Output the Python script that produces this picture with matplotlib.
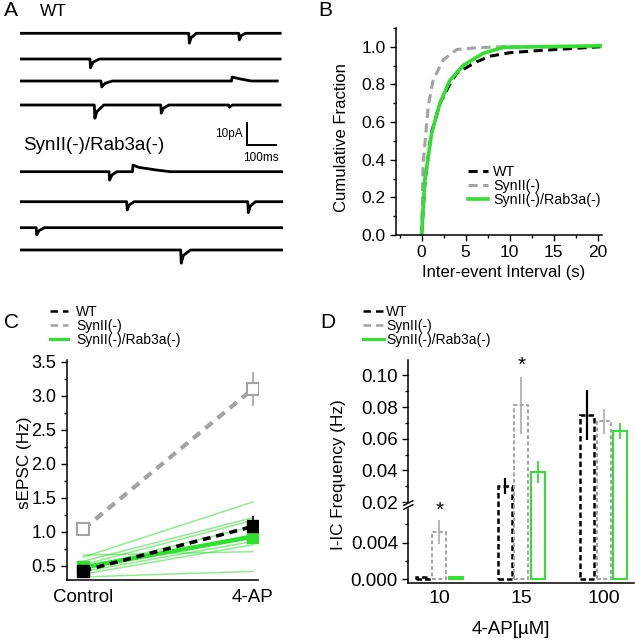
import numpy as np
import matplotlib
matplotlib.use('Agg')
import matplotlib.pyplot as plt
from matplotlib.lines import Line2D
from matplotlib.ticker import FixedLocator, MultipleLocator, FixedFormatter

plt.rcParams['font.family'] = ['Liberation Sans', 'DejaVu Sans']
plt.rcParams['axes.linewidth'] = 1.1
plt.rcParams['xtick.direction'] = 'out'
plt.rcParams['ytick.direction'] = 'out'

# ---- data ----
# A: example traces, (time ms, current pA) points
wt_traces = [
    [(0, 0), (584, 0), (586, -4.5), (592, -2), (610, 0), (757, 0), (759, -3), (766, -1), (780, 0), (900, 0)],
    [(0, 0), (242, 0), (244, -4), (252, -1.5), (275, 0), (900, 0)],
    [(0, 0), (280, 0), (283, -2.7), (295, -1), (320, 0), (732, 0), (734, 1.8), (760, 1), (800, 0), (890, 0)],
    [(0, 0), (257, 0), (259, -6), (266, -3), (290, 0), (487, 0), (489, -3.7), (496, -1.5), (515, 0),
     (722, 0), (724, -1), (735, 0), (900, 0)],
]
dko_traces = [
    [(0, 0), (308, 0), (310, -3.8), (318, -1.5), (335, 0), (389, 0), (391, 3), (410, 2), (470, 0.8), (520, 0), (910, 0)],
    [(0, 0), (369, 0), (371, -3.8), (378, -1.5), (395, 0), (788, 0), (790, -5), (797, -2), (815, 0), (910, 0)],
    [(0, 0), (56, 0), (58, -3.3), (66, -1.3), (85, 0), (910, 0)],
    [(0, 0), (556, 0), (558, -6), (565, -2.5), (590, 0), (910, 0)],
]

# B: cumulative distributions of inter-event interval
b_x_wt = [0, 0.4, 1.1, 2.1, 3.2, 4.0, 6.25, 7.8, 10, 13.4, 16.9, 20.3]
b_y_wt = [0, 0.29, 0.54, 0.70, 0.80, 0.86, 0.92, 0.95, 0.968, 0.98, 0.99, 1.0]
b_x_syn = [0, 0.18, 0.75, 1.3, 2.45, 4.0, 6.25, 9.3, 20.3]
b_y_syn = [0, 0.38, 0.68, 0.82, 0.93, 0.985, 0.995, 1.0, 1.0]
b_x_rab = [0, 0.37, 1.14, 2.08, 3.2, 4.7, 7.0, 9.3, 20.4]
b_y_rab = [0, 0.29, 0.54, 0.70, 0.82, 0.90, 0.965, 0.997, 1.005]

# C: sEPSC frequency
conditions = ['Control', '4-AP']
c_wt = [0.43, 1.08]
c_wt_err = [0.04, 0.15]
c_syn = [1.04, 3.10]
c_syn_err = [0.10, 0.25]
c_rab = [0.48, 0.93]
c_rab_err = [0.05, 0.08]
c_rab_cells = [[0.63, 1.44], [0.57, 1.21], [0.52, 1.17], [0.47, 1.08], [0.45, 0.96],
               [0.42, 0.86], [0.38, 0.81], [0.66, 0.71], [0.34, 0.42]]

# D: I-IC frequency vs 4-AP
conc = ['10', '15', '100']
d_wt = [0.0003, 0.030, 0.075]
d_wt_err = [0, 0.005, 0.016]
d_syn = [0.0052, 0.081, 0.071]
d_syn_err = [0.0013, 0.018, 0.008]
d_rab = [0.0003, 0.039, 0.065]
d_rab_err = [0, 0.007, 0.005]

labels = ['WT', 'SynII(-)', 'SynII(-)/Rab3a(-)']

GREEN = '#2fe02f'
GRAY = '#a3a3a3'

W, H = 635, 640


def fx(px):
    return px / W


def fy(py):
    return 1 - py / H


def rect(l, t, r, b):
    return [l / W, 1 - b / H, (r - l) / W, (b - t) / H]


fig = plt.figure(figsize=(6.35, 6.4), dpi=100)

# ---- A ----
axA = fig.add_axes(rect(20, 20, 283, 270))
axA.axis('off')
axA.set_xlim(0, 910)
axA.set_ylim(-107.6, 6.05)
rows_px = [33.3, 59, 81, 105, 171.7, 201.7, 227.7, 250]
for pts, row in zip(wt_traces + dko_traces, rows_px):
    t, v = np.array(pts, dtype=float).T
    axA.plot(t, v - (row - 33.3) / 2.2, color='k', lw=2.0)
axA.plot([785, 785, 885], [-40.8, -50.8, -50.8], color='k', lw=1.4, solid_joinstyle='miter')
axA.text(772, -46, '10pA', ha='right', va='center', fontsize=8.5)
axA.text(835, -54, '100ms', ha='center', va='top', fontsize=8.5)
fig.text(fx(4), fy(11), 'A', fontsize=15, va='center')
fig.text(fx(40), fy(11), 'WT', fontsize=12.5, va='center')
fig.text(fx(23), fy(145), 'SynII(-)/Rab3a(-)', fontsize=13.5, va='center')

# ---- B ----
axB = fig.add_axes(rect(396, 27.9, 601.7, 235))
axB.plot(b_x_syn, b_y_syn, color=GRAY, lw=2.2, dashes=(3, 1.8))
axB.plot(b_x_wt, b_y_wt, color='k', lw=2.2, dashes=(3, 1.8))
axB.plot(b_x_rab, b_y_rab, color=GREEN, lw=2.6)
axB.set_xlim(-2.9, 20.45)
axB.set_ylim(0, 1.1)
axB.xaxis.set_major_locator(MultipleLocator(5))
axB.xaxis.set_minor_locator(MultipleLocator(2.5))
axB.yaxis.set_major_locator(FixedLocator([0, 0.2, 0.4, 0.6, 0.8, 1.0]))
axB.yaxis.set_minor_locator(MultipleLocator(0.1))
axB.yaxis.set_major_formatter(plt.FormatStrFormatter('%.1f'))
axB.set_xlabel('Inter-event Interval (s)', fontsize=12, va='center')
axB.set_ylabel('Cumulative Fraction', fontsize=12, va='center')
axB.xaxis.set_label_coords(0.524, -0.183)
axB.yaxis.set_label_coords(-0.264, 0.47)
fig.text(fx(318), fy(11), 'B', fontsize=15, va='center')
hB = [Line2D([], [], color='k', lw=2.2, dashes=(3, 1.8)),
      Line2D([], [], color=GRAY, lw=2.2, dashes=(3, 1.8)),
      Line2D([], [], color=GREEN, lw=2.6)]
axB.legend(hB, labels, loc='upper left', bbox_to_anchor=(fx(468), fy(165)),
           bbox_transform=fig.transFigure, frameon=False, fontsize=10.3,
           handlelength=1.4, handletextpad=0.35, labelspacing=0.0,
           borderpad=0, borderaxespad=0)

# ---- C ----
axC = fig.add_axes(rect(66.7, 360.3, 258, 579.6))
xc = np.arange(len(conditions))
for cell in c_rab_cells:
    axC.plot(xc, cell, color=GREEN, lw=1.1, alpha=0.55)
axC.errorbar(xc, c_rab, yerr=c_rab_err, color=GREEN, lw=3.2, marker='s', ms=8,
             elinewidth=1.2, capsize=0)
axC.errorbar(xc, c_syn, yerr=c_syn_err, color=GRAY, lw=3, dashes=(2.2, 1.6), marker='s', ms=8,
             mfc='white', mec=GRAY, mew=1.5, elinewidth=1.2, capsize=0)
axC.errorbar(xc, c_wt, yerr=c_wt_err, color='k', lw=2.6, dashes=(2.2, 1.6), marker='s', ms=8,
             elinewidth=1.2, capsize=0)
axC.set_xlim(-0.098, 1.03)
axC.set_ylim(0.3, 3.52)
axC.set_xticks(xc)
axC.set_xticklabels(conditions, fontsize=13.5)
axC.yaxis.set_major_locator(MultipleLocator(0.5))
axC.yaxis.set_minor_locator(FixedLocator(np.arange(0.75, 3.5, 0.5)))
axC.yaxis.set_major_formatter(plt.FormatStrFormatter('%.1f'))
axC.set_ylabel('sEPSC (Hz)', fontsize=12.3, va='center')
axC.yaxis.set_label_coords(-0.218, 0.534)
fig.text(fx(4), fy(322), 'C', fontsize=15, va='center')
hC = [Line2D([], [], color='k', lw=1.8, dashes=(3, 2)),
      Line2D([], [], color=GRAY, lw=1.8, dashes=(3, 2)),
      Line2D([], [], color=GREEN, lw=2.2)]
axC.legend(hC, labels, loc='upper left', bbox_to_anchor=(fx(50), fy(305)),
           bbox_transform=fig.transFigure, frameon=False, fontsize=10,
           handlelength=1.3, handletextpad=0.58, labelspacing=0.0,
           borderpad=0, borderaxespad=0)

# ---- D (broken y axis) ----
brk_xp = [-1.0, 0.008, 0.02, 1.0]
brk_fp = [-9150.0, 73.2, 77.2, 77.2 + 0.98 * 1583]


def fwd(y):
    return np.interp(y, brk_xp, brk_fp)


def inv(f):
    return np.interp(f, brk_fp, brk_xp)


axD = fig.add_axes(rect(408.3, 360, 634, 583.3))
axD.set_yscale('function', functions=(fwd, inv))
xd = np.arange(len(conc))
bw, off = 0.17, 0.205
axD.bar(xd - off, d_wt, bw, fill=False, edgecolor='k', lw=1.8, linestyle=(0, (2.2, 1.2)))
axD.bar(xd, d_syn, bw, fill=False, edgecolor=GRAY, lw=1.4, linestyle=(0, (2, 1.3)))
axD.bar(xd + off, d_rab, bw, fill=False, edgecolor=GREEN, lw=1.4)
axD.errorbar(xd - off, d_wt, yerr=d_wt_err, fmt='none', ecolor='k', elinewidth=1.6, capsize=0)
axD.errorbar(xd, d_syn, yerr=d_syn_err, fmt='none', ecolor=GRAY, elinewidth=1.1, capsize=0)
axD.errorbar(xd + off, d_rab, yerr=d_rab_err, fmt='none', ecolor=GREEN, elinewidth=1.3, capsize=0)
axD.text(0, 0.0075, '*', ha='center', va='center', fontsize=15)
axD.text(1, 0.1066, '*', ha='center', va='center', fontsize=15)
axD.set_xlim(-0.378, 2.37)
axD.set_ylim(-0.00044, 0.1097)
axD.set_xticks(xd)
axD.set_xticklabels(conc, fontsize=13.5)
d_major = [0.0, 0.004, 0.02, 0.04, 0.06, 0.08, 0.10]
axD.yaxis.set_major_locator(FixedLocator(d_major))
axD.yaxis.set_major_formatter(FixedFormatter(['0.000', '0.004', '0.02', '0.04', '0.06', '0.08', '0.10']))
axD.yaxis.set_minor_locator(FixedLocator([0.002, 0.006, 0.03, 0.05, 0.07, 0.09]))
axD.set_ylabel('I-IC Frequency (Hz)', fontsize=12.3, va='center')
axD.yaxis.set_label_coords(-0.311, 0.485)
axD.set_xlabel('4-AP[\u00b5M]', fontsize=13.5, va='center')
axD.xaxis.set_label_coords(0.454, -0.209)
# break marks on the y axis
yb = 1 - (505 - 360) / 223.3
axD.add_patch(plt.Rectangle((-0.02, yb - 0.008), 0.04, 0.016, transform=axD.transAxes,
                            color='white', clip_on=False, zorder=5))
for dy in (-0.009, 0.009):
    axD.plot([-0.02, 0.02], [yb + dy - 0.01, yb + dy + 0.01], color='k', lw=1.1,
             transform=axD.transAxes, clip_on=False, zorder=6)
fig.text(fx(320), fy(322), 'D', fontsize=15, va='center')
hD = [Line2D([], [], color='k', lw=1.8, dashes=(3, 2)),
      Line2D([], [], color=GRAY, lw=1.8, dashes=(3, 2)),
      Line2D([], [], color=GREEN, lw=2.2)]
axD.legend(hD, labels, loc='upper left', bbox_to_anchor=(fx(363), fy(305)),
           bbox_transform=fig.transFigure, frameon=False, fontsize=10,
           handlelength=1.5, handletextpad=0.17, labelspacing=0.0,
           borderpad=0, borderaxespad=0)

for ax in (axB, axC, axD):
    ax.spines['top'].set_visible(False)
    ax.spines['right'].set_visible(False)
    ax.tick_params(which='major', length=4, width=1, labelsize=13)
    ax.tick_params(which='minor', length=2.5, width=1)
axB.tick_params(labelsize=12.5)
axC.tick_params(axis='x', labelsize=13.5, length=0, pad=7)
axD.tick_params(axis='y', labelsize=13.5)
axD.tick_params(axis='x', labelsize=14, length=0, pad=5)

fig.savefig('out.png', dpi=100)
